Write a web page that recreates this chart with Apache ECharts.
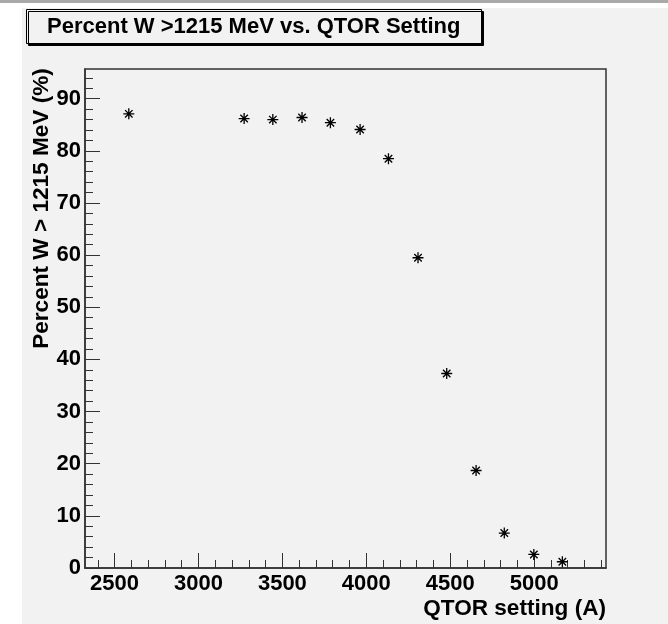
<!DOCTYPE html>
<html>
<head>
<meta charset="utf-8">
<script src="https://cdn.jsdelivr.net/npm/echarts@6/dist/echarts.min.js"></script>
<style>
html,body{margin:0;padding:0;background:#ffffff;}
#chart{width:668px;height:624px;}
</style>
</head>
<body>
<div id="chart"></div>
<script>
// ---- data ----
const qtorSetting = [2585, 3272, 3443, 3617, 3786, 3963, 4132, 4308, 4479, 4654, 4822, 4998, 5168];
const percentW = [87.1, 86.2, 86.0, 86.4, 85.4, 84.1, 78.5, 59.5, 37.3, 18.7, 6.7, 2.6, 1.2];

const xMajorTicks = [2500, 3000, 3500, 4000, 4500, 5000];
const xMinorTicks = [2400, 2600, 2700, 2800, 2900, 3100, 3200, 3300, 3400, 3600, 3700, 3800, 3900,
                     4100, 4200, 4300, 4400, 4600, 4700, 4800, 4900, 5100, 5200, 5300, 5400];
const yMajorTicks = [0, 10, 20, 30, 40, 50, 60, 70, 80, 90];
const yMinorTicks = [2, 4, 6, 8, 12, 14, 16, 18, 22, 24, 26, 28, 32, 34, 36, 38, 42, 44, 46, 48,
                     52, 54, 56, 58, 62, 64, 66, 68, 72, 74, 76, 78, 82, 84, 86, 88, 92, 94];
const xRange = [2324, 5428];
const yRange = [0, 95.7];

const titleText = 'Percent W >1215 MeV vs. QTOR Setting';
const xTitle = 'QTOR setting (A)';
const yTitle = 'Percent W > 1215 MeV (%)';

// ---- chart ----
const FONT = 'Liberation Sans, Arial, Helvetica, sans-serif';
const chart = echarts.init(document.getElementById('chart'), null, {renderer: 'canvas'});
const labelStyle = {color: '#000', fontFamily: FONT, fontWeight: 'bold', fontSize: 22};
const nameStyle = {color: '#000', fontFamily: FONT, fontWeight: 'bold', fontSize: 22.6};
const points = qtorSetting.map((x, i) => [x, percentW[i]]);
const plain = v => String(v);

const option = {
  animation: false,
  backgroundColor: '#ffffff',
  graphic: [
    {type: 'rect', z: -10, silent: true, shape: {x: 22, y: 8, width: 646, height: 616}, style: {fill: '#f2f2f2'}},
    {type: 'rect', z: -10, silent: true, shape: {x: 0, y: 0, width: 668, height: 3}, style: {fill: '#a9a9a9'}}
  ],
  title: {
    text: titleText,
    left: 26, top: 9,
    padding: [7, 21, 6, 21],
    backgroundColor: '#f2f2f2',
    borderColor: '#000', borderWidth: 1,
    shadowColor: '#000', shadowBlur: 0, shadowOffsetX: 2, shadowOffsetY: 2,
    textStyle: {color: '#000', fontFamily: FONT, fontWeight: 'bold', fontSize: 22}
  },
  grid: {
    left: 85, right: 62, top: 69, bottom: 56,
    show: true, borderColor: '#333', borderWidth: 1.5, backgroundColor: 'transparent',
    outerBoundsMode: 'none'
  },
  xAxis: [
    {
      type: 'value', position: 'bottom', min: xRange[0], max: xRange[1],
      name: xTitle, nameLocation: 'end', nameGap: 0, nameMoveOverlap: false,
      nameTextStyle: Object.assign({}, nameStyle, {align: 'right', verticalAlign: 'top', padding: [29, 0, 0, 0]}),
      axisLine: {show: true, onZero: false, lineStyle: {color: '#333', width: 1.5}},
      axisTick: {show: true, inside: true, length: 15, customValues: xMajorTicks, lineStyle: {color: '#333', width: 1}},
      axisLabel: Object.assign({show: true, margin: 5, customValues: xMajorTicks, formatter: plain}, labelStyle),
      splitLine: {show: false}
    },
    {
      type: 'value', position: 'bottom', min: xRange[0], max: xRange[1],
      axisLine: {show: false},
      axisTick: {show: true, inside: true, length: 8, customValues: xMinorTicks, lineStyle: {color: '#333', width: 1}},
      axisLabel: {show: false},
      splitLine: {show: false}
    }
  ],
  yAxis: [
    {
      type: 'value', position: 'left', min: yRange[0], max: yRange[1],
      name: yTitle, nameLocation: 'middle', nameGap: 32, nameRotate: 90, nameMoveOverlap: false,
      nameTextStyle: Object.assign({}, nameStyle, {padding: [0, 0, 0, 220]}),
      axisLine: {show: true, onZero: false, lineStyle: {color: '#333', width: 1.5}},
      axisTick: {show: true, inside: true, length: 15, customValues: yMajorTicks, lineStyle: {color: '#333', width: 1}},
      axisLabel: Object.assign({show: true, margin: 4, customValues: yMajorTicks, formatter: plain}, labelStyle),
      splitLine: {show: false}
    },
    {
      type: 'value', position: 'left', min: yRange[0], max: yRange[1],
      axisLine: {show: false},
      axisTick: {show: true, inside: true, length: 8, customValues: yMinorTicks, lineStyle: {color: '#333', width: 1}},
      axisLabel: {show: false},
      splitLine: {show: false}
    }
  ],
  series: [{
    type: 'scatter',
    xAxisIndex: 0, yAxisIndex: 0,
    data: points,
    symbol: 'path://M0,5L10,5M5,0L5,10M1.6,1.6L8.4,8.4M1.6,8.4L8.4,1.6',
    symbolSize: 11,
    itemStyle: {color: '#000', borderColor: '#000', borderWidth: 1.3, opacity: 1},
    emphasis: {disabled: true}
  }]
};
chart.setOption(option);
</script>
</body>
</html>
